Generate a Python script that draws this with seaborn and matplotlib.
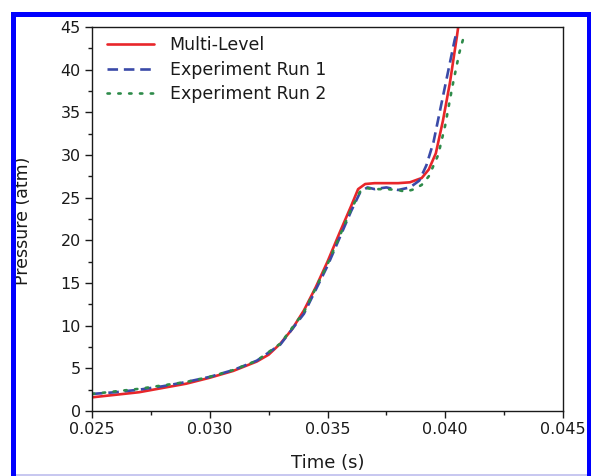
import matplotlib
matplotlib.use("Agg")
import matplotlib.pyplot as plt
from matplotlib.patches import Rectangle
from matplotlib.ticker import MultipleLocator, FormatStrFormatter
import seaborn as sns
import pandas as pd

# Multi-Level model
t_model = [0.0250, 0.0260, 0.0270, 0.0280, 0.0290, 0.0300, 0.0310, 0.0320, 0.0325,
           0.0330, 0.0335, 0.0340, 0.0345, 0.0350, 0.0355, 0.0360, 0.0363, 0.0366,
           0.0370, 0.0380, 0.0385, 0.0390, 0.0393, 0.0396, 0.0399, 0.0402, 0.0405, 0.0406]
p_model = [1.6, 1.9, 2.2, 2.7, 3.2, 3.9, 4.7, 5.8, 6.6,
           7.9, 9.6, 11.8, 14.5, 17.5, 20.8, 24.0, 26.0, 26.6,
           26.7, 26.7, 26.8, 27.3, 28.3, 30.2, 34.0, 38.5, 44.0, 46.0]

# Experiment Run 1
t_run1 = [0.0250, 0.0260, 0.0270, 0.0280, 0.0290, 0.0300, 0.0310, 0.0320, 0.0330,
          0.0340, 0.0350, 0.0360, 0.0364, 0.0367, 0.0370, 0.0375, 0.0380, 0.0385,
          0.0389, 0.0392, 0.0395, 0.0398, 0.0401, 0.0404, 0.0405]
p_run1 = [2.0, 2.2, 2.5, 2.9, 3.4, 4.0, 4.8, 5.9, 7.8,
          11.4, 17.0, 23.4, 25.7, 26.2, 26.0, 26.2, 25.9, 26.2,
          27.0, 28.8, 31.5, 35.5, 39.5, 43.5, 44.5]

# Experiment Run 2
t_run2 = [0.0250, 0.0260, 0.0270, 0.0280, 0.0290, 0.0300, 0.0310, 0.0320, 0.0330,
          0.0340, 0.0350, 0.0360, 0.0364, 0.0367, 0.0370, 0.0375, 0.0380, 0.0383,
          0.0387, 0.0390, 0.0393, 0.0397, 0.0400, 0.0403, 0.0406, 0.0408]
p_run2 = [2.0, 2.3, 2.6, 3.0, 3.4, 4.0, 4.8, 5.9, 7.9,
          11.6, 17.2, 23.6, 25.8, 26.1, 26.0, 26.0, 25.9, 25.7,
          26.0, 26.5, 27.5, 30.0, 33.5, 38.0, 42.0, 44.0]

labels = ["Multi-Level", "Experiment Run 1", "Experiment Run 2"]

df_model = pd.DataFrame({"t": t_model, "p": p_model})
df_run1 = pd.DataFrame({"t": t_run1, "p": p_run1})
df_run2 = pd.DataFrame({"t": t_run2, "p": p_run2})

sns.set_style("ticks")
plt.rcParams["font.family"] = ["DejaVu Sans"]
plt.rcParams["text.color"] = "#1a1a1a"
plt.rcParams["axes.labelcolor"] = "#1a1a1a"

fig = plt.figure(figsize=(5.91, 4.76), dpi=100)
ax = fig.add_axes([92/591, 1-411/476, (563-92)/591, (411-27)/476])

sns.lineplot(data=df_model, x="t", y="p", ax=ax, color="#e8262a", lw=1.9,
             label=labels[0], sort=False, estimator=None)
sns.lineplot(data=df_run1, x="t", y="p", ax=ax, color="#3a4aa8", lw=1.9,
             label=labels[1], sort=False, estimator=None)
sns.lineplot(data=df_run2, x="t", y="p", ax=ax, color="#2e8b4a", lw=1.9,
             label=labels[2], sort=False, estimator=None)
lines = ax.get_lines()
lines[1].set_dashes([4, 2.2])
lines[2].set_dashes([0.9, 3.2])
lines[2].set_dash_capstyle("round")

ax.set_xlim(0.025, 0.045)
ax.set_ylim(0, 45)
ax.xaxis.set_major_locator(MultipleLocator(0.005))
ax.xaxis.set_minor_locator(MultipleLocator(0.0025))
ax.yaxis.set_major_locator(MultipleLocator(5))
ax.yaxis.set_minor_locator(MultipleLocator(2.5))
ax.xaxis.set_major_formatter(FormatStrFormatter("%.3f"))
ax.tick_params(which="major", direction="out", length=5, width=1.0, labelsize=11.5,
               colors="#1a1a1a", pad=3)
ax.tick_params(which="minor", direction="out", length=3, width=1.0, colors="#1a1a1a")
for s in ax.spines.values():
    s.set_visible(True)
    s.set_linewidth(1.0)
    s.set_color("#1a1a1a")

ax.set_xlabel("Time (s)", fontsize=13)
ax.set_ylabel("Pressure (atm)", fontsize=12.5)
ax.xaxis.set_label_coords(0.5, (411-454)/384)
ax.yaxis.set_label_coords((32-92)/471, 0.495)

leg = ax.legend(loc="upper left", frameon=False, fontsize=12.5, handlelength=2.7,
                handletextpad=0.9, labelspacing=0.38, borderaxespad=0.0, borderpad=0.0,
                bbox_to_anchor=((107-92)/471, (411-36)/384))

# blue border around the figure
fig.patches.append(Rectangle((12.5/591, -0.05), (588.5-12.5)/591, 1.05 - 14.5/476,
                             transform=fig.transFigure, fill=False,
                             edgecolor="#0000ff", linewidth=3.6, zorder=10))
fig.patches.append(Rectangle((12.5/591, 0.0), (588.5-12.5)/591, 2/476,
                             transform=fig.transFigure, fill=True,
                             facecolor="#c8c8f0", edgecolor="none", zorder=9))

fig.savefig("out.png", dpi=100)
